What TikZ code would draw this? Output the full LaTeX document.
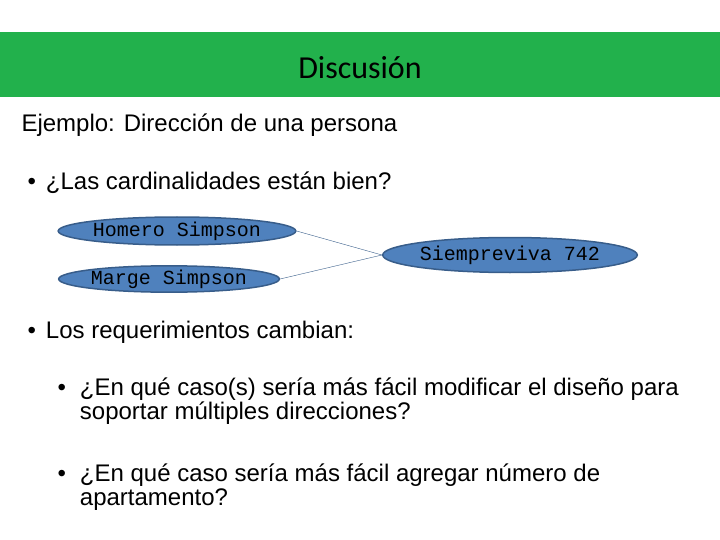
\documentclass[tikz,border=0pt]{standalone}
\usepackage{fontspec}
\setmainfont{Liberation Sans}
\newfontfamily\titlefont{Carlito}
\setmonofont{Liberation Mono}
\usetikzlibrary{shapes.geometric}
\definecolor{barGreen}{RGB}{34,177,76}
\definecolor{entFill}{RGB}{79,129,189}
\definecolor{entLine}{RGB}{56,93,138}
\tikzset{
    entity/.style={ellipse, draw=entLine, line width=1.5pt, fill=entFill,
        font=\ttfamily\fontsize{20}{20}\selectfont, inner sep=0pt},
    body/.style={anchor=west, font=\fontsize{24}{24}\selectfont, align=left},
    link/.style={entLine, thin}
}
\begin{document}
\begin{tikzpicture}[x=1pt,y=-1pt]
    \useasboundingbox (0,0) rectangle (720,540);
    \fill[barGreen] (0,32) rectangle (720,97);
    \node[font=\titlefont\fontsize{32}{32}\selectfont] (title) at (360,68) {Discusión};

    \node[body] (ej) at (18,125) {Ejemplo: Dirección de una persona};
    \node[body] (b1) at (24,183) {•\hspace{10pt}¿Las cardinalidades están bien?};

    % entidades
    \node[entity, minimum width=190pt, minimum height=28pt] (homero) at (177,231) {Homero Simpson};
    \node[entity, minimum width=174pt, minimum height=25pt] (marge) at (169,279) {Marge Simpson};
    \node[entity, minimum width=205pt, minimum height=35pt] (calle) at (510,255) {Siempreviva 742};
    \draw[link] (homero.east) -- (calle.west);
    \draw[link] (marge.east) -- (calle.west);

    \node[body] (b2) at (24,332) {•\hspace{10pt}Los requerimientos cambian:};
    \node[body, anchor=north west] (b3) at (54,374) {•\hspace{14pt}\parbox[t]{640pt}{¿En qué caso(s) sería más fácil modificar el diseño para\\soportar múltiples direcciones?}};
    \node[body, anchor=north west] (b4) at (54,460) {•\hspace{14pt}\parbox[t]{640pt}{¿En qué caso sería más fácil agregar número de\\apartamento?}};
\end{tikzpicture}
\end{document}
